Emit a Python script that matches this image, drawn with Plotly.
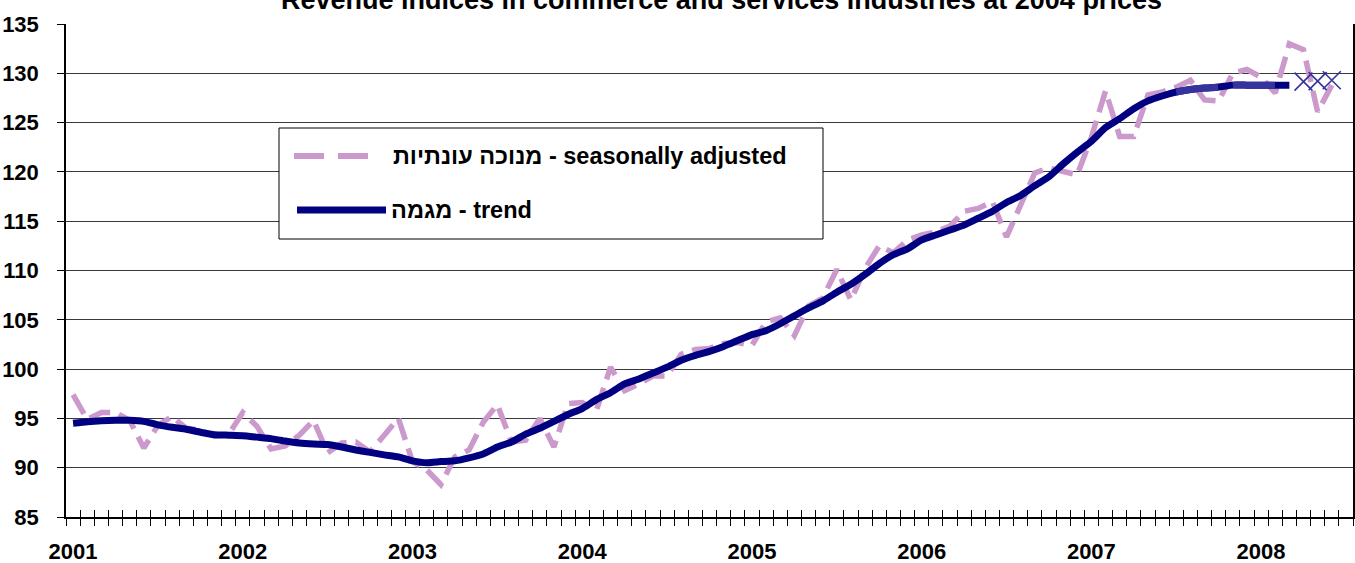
import plotly.graph_objects as go

# ---------------- data ----------------
years = [2001, 2002, 2003, 2004, 2005, 2006, 2007, 2008]
n_months = 91  # Jan 2001 .. Jul 2008 (category slots)

seasonally_adjusted = [
    97.4, 94.9, 95.6, 95.6, 94.8, 92.0, 94.3, 95.2, 94.0, 93.8, 93.2, 93.4,   # 2001
    95.6, 94.2, 91.9, 92.2, 93.3, 94.8, 91.5, 92.5, 92.6, 91.6, 93.3, 95.0,   # 2002
    90.6, 89.8, 88.3, 91.1, 91.8, 94.6, 96.4, 92.6, 92.8, 95.0, 92.1, 96.5,   # 2003
    96.6, 95.8, 100.2, 97.8, 98.5, 99.3, 99.3, 101.5, 102.0, 102.1, 102.6, 102.7,  # 2004
    102.4, 104.8, 105.2, 103.4, 106.4, 107.2, 110.1, 107.0, 110.2, 112.5, 111.8, 113.1,  # 2005
    113.6, 113.9, 114.5, 116.0, 116.3, 117.0, 113.4, 116.8, 119.9, 120.4, 120.0, 119.7,  # 2006
    123.5, 128.2, 123.6, 123.6, 127.8, 128.1, 128.6, 129.3, 127.3, 127.2, 130.0, 130.4,  # 2007
    129.6, 128.0, 133.0, 132.4, 126.1, 128.8,                                           # 2008
]

trend = [
    94.5, 94.65, 94.75, 94.8, 94.8, 94.7, 94.35, 94.1, 93.9, 93.6, 93.35, 93.3,
    93.25, 93.1, 92.95, 92.7, 92.5, 92.4, 92.35, 92.1, 91.8, 91.55, 91.3, 91.1,
    90.7, 90.5, 90.62, 90.7, 91.0, 91.4, 92.1, 92.6, 93.4, 94.0, 94.7, 95.4,
    96.0, 96.9, 97.6, 98.5, 99.0, 99.6, 100.2, 100.9, 101.4, 101.8, 102.3, 102.9,
    103.5, 103.9, 104.6, 105.4, 106.2, 106.9, 107.8, 108.6, 109.6, 110.7, 111.6, 112.2,
    113.1, 113.6, 114.1, 114.6, 115.3, 116.0, 116.9, 117.6, 118.6, 119.5, 120.8, 122.0,
    123.1, 124.5, 125.4, 126.4, 127.2, 127.7, 128.1, 128.35, 128.5, 128.6, 128.8, 128.8,
    128.8, 128.8, 128.8,
]
provisional_start = 78          # last part of trend drawn lighter
forecast_months = [87, 88, 89]
forecast = [129.15, 129.2, 129.3]

title_text = "Revenue indices in commerce and services industries at 2004 prices"
label_sa = "מנוכה עונתיות - seasonally adjusted"
label_trend = "מגמה - trend"

# ---------------- figure ----------------
W, H = 1355, 563
ML, MR, MT, MB = 66, 2, 24, 46
PW, PH = W - ML - MR, H - MT - MB


def px_x(p):
    return (p - ML) / PW


def px_y(p):
    return 1 - (p - MT) / PH


x_sa = list(range(len(seasonally_adjusted)))
x_tr = list(range(len(trend)))
x_prov = x_tr[provisional_start:]

PINK = "#CC99CC"
NAVY = "#000080"
LIGHTNAVY = "#34349C"
FONT = "Liberation Sans, Arial, sans-serif"

fig = go.Figure()
fig.add_trace(go.Scatter(x=x_sa, y=seasonally_adjusted, mode="lines",
                         line=dict(color=PINK, width=5.5, dash="22px,9px"),
                         name=label_sa, showlegend=False))
fig.add_trace(go.Scatter(x=x_tr, y=trend, mode="lines",
                         line=dict(color=NAVY, width=7, shape="spline", smoothing=0.4),
                         name=label_trend, showlegend=False))
fig.add_trace(go.Scatter(x=x_prov, y=trend[provisional_start:], mode="lines",
                         line=dict(color=LIGHTNAVY, width=7, dash="42px,15px",
                                   shape="spline", smoothing=0.4),
                         showlegend=False, hoverinfo="skip"))
fig.add_trace(go.Scatter(x=forecast_months, y=forecast, mode="markers",
                         marker=dict(symbol="x-thin", size=18,
                                     line=dict(color=LIGHTNAVY, width=1.6)),
                         showlegend=False))
# invisible trace for the inside-tick overlay axis
fig.add_trace(go.Scatter(x=[0], y=[None], xaxis="x2", mode="lines",
                         showlegend=False, hoverinfo="skip"))

boundaries = [i - 0.5 for i in range(n_months + 1)]
year_pos = [12 * k for k in range(len(years))]

fig.update_layout(
    width=W, height=H,
    margin=dict(l=ML, r=MR, t=MT, b=MB, pad=0, autoexpand=False),
    paper_bgcolor="white", plot_bgcolor="white",
    font=dict(family=FONT, color="black"),
    xaxis=dict(range=[-0.5, n_months - 0.5], tickmode="array",
               tickvals=year_pos, ticktext=[str(y) for y in years],
               ticks="", showgrid=False, zeroline=False, automargin=False,
               showline=True, linecolor="black", linewidth=1.5,
               tickfont=dict(family=FONT, size=22, weight="bold", color="black"),
               ticklabelstandoff=14,
               minor=dict(tickmode="array", tickvals=boundaries, ticks="outside",
                          ticklen=7, tickcolor="black", tickwidth=1, showgrid=False)),
    xaxis2=dict(range=[-0.5, n_months - 0.5], overlaying="x", anchor="y",
                side="bottom", tickmode="array", tickvals=boundaries,
                ticks="inside", ticklen=7, tickcolor="black", tickwidth=1,
                automargin=False,
                showticklabels=False, showgrid=False, zeroline=False, showline=False),
    yaxis=dict(range=[85, 135], tickmode="linear", tick0=85, dtick=5,
               ticks="outside", ticklen=7, tickcolor="black", automargin=False,
               showgrid=True, gridcolor="#3a3a3a", gridwidth=1,
               zeroline=False, showline=True, linecolor="black", linewidth=1.5,
               mirror=True,
               tickfont=dict(family=FONT, size=22, weight="bold", color="black"),
               ticklabelstandoff=14),
    showlegend=False,
)

# title (partly above the page, as in the reference)
fig.add_annotation(text=title_text, xref="paper", yref="paper",
                   x=px_x(721), y=px_y(0), xanchor="center", yanchor="middle",
                   showarrow=False,
                   font=dict(family=FONT, size=27, weight="bold", color="black"))

# legend drawn as a box with samples
fig.add_shape(type="rect", xref="paper", yref="paper",
              x0=px_x(279), x1=px_x(823), y0=px_y(239), y1=px_y(128),
              line=dict(color="black", width=1), fillcolor="white", layer="above")
fig.add_shape(type="line", xref="paper", yref="paper",
              x0=px_x(294), x1=px_x(382), y0=px_y(156), y1=px_y(156),
              line=dict(color=PINK, width=6, dash="30px,14px"), layer="above")
fig.add_shape(type="line", xref="paper", yref="paper",
              x0=px_x(297), x1=px_x(386), y0=px_y(210), y1=px_y(210),
              line=dict(color=NAVY, width=7), layer="above")
fig.add_annotation(text=label_sa, xref="paper", yref="paper",
                   x=px_x(391), y=px_y(156), xanchor="left", yanchor="middle",
                   showarrow=False,
                   font=dict(family=FONT, size=23.5, weight="bold", color="black"))
fig.add_annotation(text=label_trend, xref="paper", yref="paper",
                   x=px_x(389), y=px_y(210), xanchor="left", yanchor="middle",
                   showarrow=False,
                   font=dict(family=FONT, size=23.5, weight="bold", color="black"))

fig.write_html("out.html",
               config={"displayModeBar": False},
               post_script="document.body.style.margin='0px';"
                           "document.body.style.overflow='hidden';")
